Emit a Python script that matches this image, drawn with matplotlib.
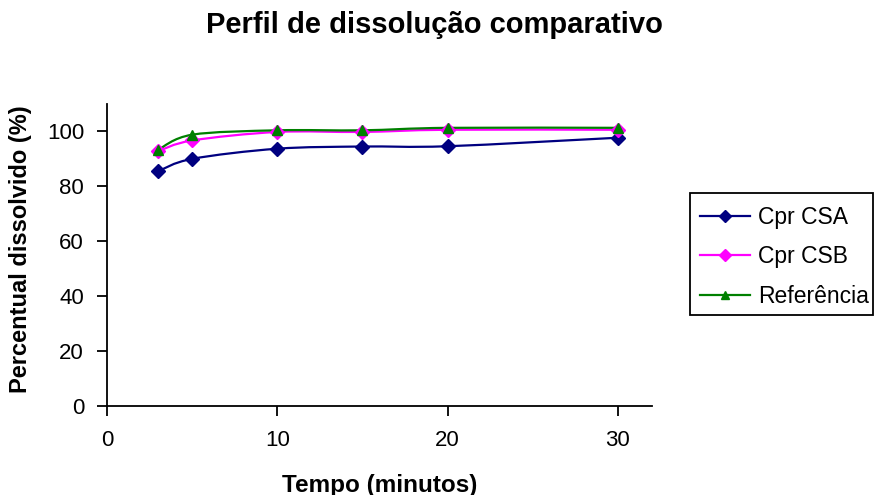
import numpy as np
import matplotlib
matplotlib.use("Agg")
import matplotlib.pyplot as plt
from matplotlib.path import Path
from matplotlib.patches import PathPatch, Rectangle
from matplotlib.lines import Line2D

plt.rcParams['font.family'] = ['Liberation Sans', 'DejaVu Sans']

tempo = [3, 5, 10, 15, 20, 30]
cpr_csa = [85.5, 90.0, 93.7, 94.5, 94.6, 97.7]
cpr_csb = [92.8, 96.7, 99.8, 99.8, 100.6, 100.6]
referencia = [93.3, 98.8, 100.4, 100.4, 101.3, 101.3]

series_names = ["Cpr CSA", "Cpr CSB", "Referência"]
series_colors = ["#000080", "#FF00FF", "#008000"]
series_markers = ["D", "D", "^"]
x_ticks = [0, 10, 20, 30]
y_ticks = [0, 20, 40, 60, 80, 100]


def smooth_path(x, y, tension=0.5):
    """Cardinal-spline Bezier path through the points (smoothed line)."""
    x = np.asarray(x, float)
    y = np.asarray(y, float)
    verts = [(x[0], y[0])]
    codes = [Path.MOVETO]
    n = len(x)
    for i in range(n - 1):
        p0 = (x[max(i - 1, 0)], y[max(i - 1, 0)])
        p1 = (x[i], y[i])
        p2 = (x[i + 1], y[i + 1])
        p3 = (x[min(i + 2, n - 1)], y[min(i + 2, n - 1)])
        c1 = (p1[0] + (p2[0] - p0[0]) * tension / 3, p1[1] + (p2[1] - p0[1]) * tension / 3)
        c2 = (p2[0] - (p3[0] - p1[0]) * tension / 3, p2[1] - (p3[1] - p1[1]) * tension / 3)
        verts += [c1, c2, p2]
        codes += [Path.CURVE4] * 3
    return Path(verts, codes)


fig = plt.figure(figsize=(8.75, 4.95), dpi=100)
ax = fig.add_axes([0.1223, 0.1798, 0.6227, 0.6102])

handles = []
for vals, name, col, mk in zip([cpr_csa, cpr_csb, referencia], series_names,
                                series_colors, series_markers):
    ax.add_patch(PathPatch(smooth_path(tempo, vals), facecolor="none",
                           edgecolor=col, lw=1.6, zorder=2))
    ms = 7.5 if mk == "D" else 7
    ax.plot(tempo, vals, linestyle="none", marker=mk, color=col, ms=ms, zorder=3)
    handles.append(Line2D([], [], color=col, lw=1.6, marker=mk, ms=ms - 1.5, label=name))

ax.set_xlim(0, 32)
ax.set_ylim(0, 110)
ax.set_xticks(x_ticks)
ax.set_yticks(y_ticks)
for s in ["top", "right"]:
    ax.spines[s].set_visible(False)
for s in ["left", "bottom"]:
    ax.spines[s].set_linewidth(1.3)
ax.tick_params(axis="both", direction="out", length=7, width=1.3, labelsize=16)
ax.tick_params(axis="y", pad=9.5)
ax.tick_params(axis="x", pad=10)

ax.set_xlabel("Tempo (minutos)", fontsize=17.5, fontweight="bold", va="center")
ax.set_ylabel("Percentual dissolvido (%)", fontsize=17, fontweight="bold", va="center")
ax.xaxis.set_label_coords(0.50, -0.262)
ax.yaxis.set_label_coords(-0.158, 0.52)
fig.text(0.496, 0.949, "Perfil de dissolução comparativo", ha="center", va="center",
         fontsize=21, fontweight="bold")

# legend entries, with a separately drawn border box
leg = fig.legend(handles=handles, loc="upper left", bbox_to_anchor=(0.8, 0.584),
                 fontsize=16.5, frameon=False, handlelength=2.18, labelspacing=0.72,
                 borderpad=0, handletextpad=0.35, borderaxespad=0)
fig.add_artist(Rectangle((0.7886, 0.3636), 0.2091, 0.2465, transform=fig.transFigure,
                         facecolor="white", edgecolor="black", lw=1.3, zorder=1))
leg.set_zorder(5)

fig.savefig("out.png", dpi=100)
